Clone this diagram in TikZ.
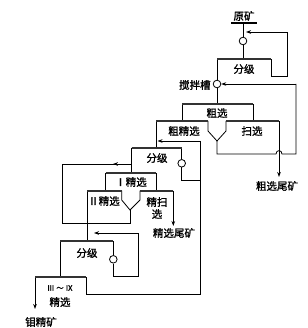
\documentclass[tikz,border=0pt]{standalone}
\usepackage{fontspec}
\newfontfamily\cjk[BoldFont={Noto Sans CJK SC},BoldFeatures={FakeBold=1.5}]{Noto Sans CJK SC}
\usetikzlibrary{arrows.meta}
\begin{document}
\begin{tikzpicture}[x=1pt,y=-1pt,line width=0.8pt,line join=miter,
  bar/.style={line width=2pt,draw=black!80},
  pump/.style={circle,draw,line width=0.8pt,minimum size=7.6pt,inner sep=0pt,fill=white},
  lbl/.style={font=\cjk\bfseries\fontsize{10.5}{12}\selectfont,inner sep=0pt},
  small/.style={font=\cjk\bfseries\fontsize{7.5}{9}\selectfont,inner sep=0pt},
  arr/.style={-{Stealth[length=5pt,width=3.6pt]}}]
\useasboundingbox (0,0) rectangle (307,328);
% ---------- feed and first classifier ----------
\node[lbl] (ym) at (244,16) {原矿};
\coordinate (barL) at (231,23); \coordinate (barR) at (257,23);
\draw[line width=2pt] (barL) -- (barR);
\coordinate (feed) at (243,23);
\node[pump] (c0) at (243,41) {};
\coordinate (f1tl) at (217,59); \coordinate (f1tr) at (271,59); \coordinate (f1in) at (243,59);
\draw (feed) -- (c0.north);
\draw (c0.south) -- (f1in);
\node[lbl] (fj1) at (244,69) {分级};
\coordinate (r1a) at (271,76); \coordinate (r1b) at (287,76); \coordinate (r1c) at (287,32); \coordinate (r1d) at (246,32);
\draw (f1tr) -- (r1a) -- (r1b) -- (r1c);
\draw[arr] (r1c) -- (r1d);
\node[pump] (c1) at (217,84) {};
\node[lbl,anchor=east] (jbc) at (211,85) {搅拌槽};
\draw (f1tl) -- (c1.north);
\draw[bar] (f1tl) -- (f1tr);
% ---------- roughing ----------
\coordinate (cxl) at (182,104); \coordinate (cxr) at (253,104); \coordinate (cxin) at (217,104);
\draw (c1.south) -- (cxin);
\draw (cxl) -- (182,121);
\draw (cxr) -- (253,121);
\draw[bar] (cxl) -- (cxr);
\node[lbl] (cx) at (217,113) {粗选};
% rough cleaner and scavenger
\coordinate (cjl) at (156,121); \coordinate (cjr) at (208,121);
\coordinate (sxl) at (226,121); \coordinate (sxr) at (279,121);
\coordinate (v1) at (217,141);
\draw (cjl) -- (156,147.7);
\draw (cjr) -- (208,131) -- (v1) -- (226,131) -- (sxl);
\draw[bar] (cjl) -- (cjr);
\draw[bar] (sxl) -- (sxr);
\node[lbl] (cjx) at (184,131) {粗精选};
\node[lbl] (sx) at (252,131) {扫选};
\coordinate (sxt) at (279,177);
\draw[arr] (sxr) -- (sxt);
\node[lbl] (cxwk) at (277,186) {粗选尾矿};
% return of middlings to conditioning tank
\coordinate (m1a) at (217,154); \coordinate (h1) at (276,154); \coordinate (h2) at (282,154);
\coordinate (m1b) at (296,154); \coordinate (m1c) at (296,84);
\draw (v1) -- (m1a) -- (h1) .. controls (276,149.5) and (282,149.5) .. (h2) -- (m1b) -- (m1c);
\draw[arr] (m1c) -- (c1.east);
% ---------- second classifier ----------
\coordinate (f2l) at (131.7,147.7); \coordinate (f2r) at (181.7,147.7);
\node[pump] (c2) at (181.7,163.3) {};
\draw (f2r) -- (c2.north);
\coordinate (p2a) at (181.7,180); \coordinate (p2b) at (200,180);
\draw (c2.south) -- (p2a) -- (p2b);
\draw[bar] (f2l) -- (f2r);
\node[lbl] (fj2) at (157,158) {分级};
\coordinate (rt1) at (200,141); \coordinate (rt1e) at (157.5,141);
\coordinate (rt2) at (200,294); \coordinate (rt3) at (86,294);
\draw[arr] (rt1) -- (rt1e);
\draw (rt1) -- (rt2) -- (rt3) -- (86,277);
\draw (f2l) -- (131.7,173.3);
% ---------- cleaner I ----------
\coordinate (j1l) at (105.7,173.3); \coordinate (j1r) at (156,173.3);
\draw (j1l) -- (105.7,190.7);
\draw (j1r) -- (156,190.7);
\draw[bar] (j1l) -- (j1r);
\node[lbl] (jx1) at (131,182) {Ⅰ精选};
% ---------- cleaner II and cleaner scavenger ----------
\coordinate (j2l) at (87,190.7); \coordinate (j2r) at (121.7,190.7);
\coordinate (jsl) at (140,190.7); \coordinate (jsr) at (173.3,190.7);
\coordinate (v2) at (130,210);
\draw (j2l) -- (87,241);
\draw (j2r) -- (121.7,200) -- (v2) -- (140,200) -- (jsl);
\draw[bar] (j2l) -- (j2r);
\draw[bar] (jsl) -- (jsr);
\node[lbl] (jx2) at (104,201) {Ⅱ精选};
\node[lbl] (jsa) at (157,202) {精扫};
\node[lbl] (jsb) at (157,214) {选};
\coordinate (jst) at (173.3,226);
\draw[arr] (jsr) -- (jst);
\node[lbl] (jxwk) at (174,233) {精选尾矿};
% return loop from cleaner II
\coordinate (m2a) at (130,223); \coordinate (m2b) at (62.7,223); \coordinate (m2c) at (62.7,164);
\coordinate (m2d) at (131.7,164);
\draw (v2) -- (m2a) -- (m2b) -- (m2c) -- (m2d);
\coordinate (ah1) at (124,164); \coordinate (ah2) at (113,164);
\draw[arr] (ah1) -- (ah2);
% ---------- third classifier ----------
\coordinate (f3l) at (60,241); \coordinate (f3r) at (113.3,241);
\node[pump] (c3) at (113.3,259.3) {};
\draw (f3r) -- (c3.north);
\coordinate (p3a) at (113.3,276.7); \coordinate (p3b) at (138.3,276.7);
\coordinate (p3c) at (138.3,233); \coordinate (p3d) at (94,233);
\draw (c3.south) -- (p3a) -- (p3b) -- (p3c);
\draw[arr] (p3c) -- (p3d);
\draw (f3l) -- (60,277);
\draw[bar] (f3l) -- (f3r);
\node[lbl] (fj3) at (87,253) {分级};
% ---------- cleaners III-IX ----------
\coordinate (j3l) at (35,277); \coordinate (j3r) at (86,277);
\coordinate (jk) at (35,309);
\draw[arr] (j3l) -- (jk);
\draw[bar] (j3l) -- (j3r);
\node[small] (jx3a) at (60,288) {Ⅲ ～ Ⅸ};
\node[lbl] (jx3b) at (60,302) {精选};
\node[lbl] (mjk) at (41,322) {钼精矿};
\end{tikzpicture}
\end{document}
